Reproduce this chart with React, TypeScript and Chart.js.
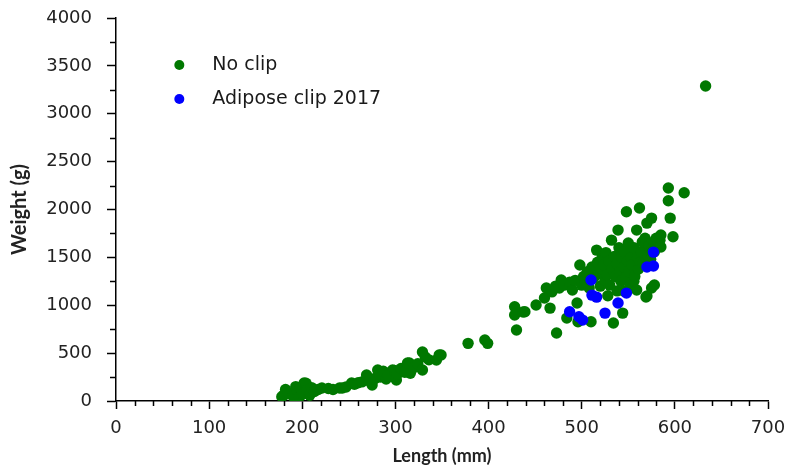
import React, { useEffect, useRef } from "react";
import { Chart, registerables } from "chart.js";
Chart.register(...registerables);

const seriesLabels = ["No clip", "Adipose clip 2017"];
const seriesColors = ["#007800", "#0000ff"];

const noClipLength = [
  178, 180, 182, 185, 190, 193, 195, 197, 198, 200, 202, 204, 205, 208, 210, 213, 217, 221, 228, 233,
  240, 243, 247, 253, 256, 260, 264, 269, 270, 272, 275, 277, 279, 281, 284, 287, 290, 292, 297, 299,
  301, 302, 306, 310, 313, 315, 316, 320, 324, 329, 329, 332, 336, 344, 347, 349,
  378, 396, 399, 428, 428, 430, 437, 439, 451, 460, 462,
  466, 468, 472, 473, 476, 478, 481, 484, 487, 490, 493, 495, 496, 498, 500, 502, 504, 506, 508, 510,
  511, 513, 516, 517, 519, 520, 521, 522, 524, 525, 526, 527, 528, 529, 530, 532, 533, 534, 535, 536,
  538, 538, 539, 540, 541, 542, 543, 544, 545, 545, 546, 548, 548, 549, 550, 551, 552, 553, 554, 556,
  556, 557, 559, 559, 560, 561, 562, 563, 564, 565, 566, 568, 569, 570, 570, 571, 572, 574, 575, 575,
  577, 578, 578, 580, 582, 584, 585, 585, 593, 593, 595, 598, 610, 633
];
const noClipWeight = [
  45, 60, 120, 80, 50, 150, 100, 45, 140, 70, 188, 185, 110, 60, 140, 100, 120, 136, 130, 120,
  136, 135, 146, 188, 175, 190, 200, 271, 240, 210, 167, 230, 240, 324, 250, 310, 230, 270, 324, 320,
  219, 280, 340, 300, 397, 397, 290, 350, 390, 512, 324, 460, 430, 428, 480, 480,
  602, 637, 602, 985, 898, 741, 930, 932, 1002, 1075, 1180,
  970, 1140, 1200, 710, 1180, 1263, 1210, 866, 1240, 1160, 1260, 1023, 828, 1420, 1210, 1300, 1250, 1350, 1180, 828,
  1400, 1290, 1576, 1450, 1330, 1200, 1380, 1500, 1420, 1260, 1550, 1320, 1100, 1460, 1210, 1680, 1380, 814, 1510, 1300,
  1430, 1150, 1785, 1600, 1350, 1250, 1500, 918, 1400, 1150, 1560, 1976, 1300, 1460, 1650, 1350, 1200, 1500, 1420, 1600,
  1250, 1300, 1785, 1160, 1500, 1380, 2015, 1450, 1560, 1660, 1440, 1700, 1086, 1858, 1096, 1520, 1620, 1480, 1910, 1180,
  1660, 1560, 1211, 1700, 1620, 1680, 1733, 1608, 2224, 2091, 1910, 1715, 2175, 3290
];

const adiposeLength = [487, 497, 501, 510, 511, 516, 525, 539, 548, 570, 577, 577];
const adiposeWeight = [932, 880, 845, 1263, 1106, 1085, 918, 1023, 1127, 1400, 1410, 1555];

const xMajorTicks = [0, 100, 200, 300, 400, 500, 600, 700];
const yMajorTicks = [0, 500, 1000, 1500, 2000, 2500, 3000, 3500, 4000];
const xMinorStep = 20;
const yMinorStep = 250;

const xTitle = "Length (mm)";
const yTitle = "Weight (g)";

const tickFont = { family: "'DejaVu Sans', Verdana, sans-serif", size: 18 };
const xTitleFont = { family: "Lato, 'DejaVu Sans', sans-serif", size: 18, weight: "bold" as const };
const yTitleFont = { family: "Lato, 'DejaVu Sans', sans-serif", size: 20, weight: "bold" as const };

const minorTicksPlugin = {
  id: "minorTicks",
  afterDraw(chart: any) {
    const ctx = chart.ctx;
    const xs = chart.scales.x;
    const ys = chart.scales.y;
    ctx.save();
    ctx.strokeStyle = "#000";
    ctx.lineWidth = 1.5;
    const yb = ys.getPixelForValue(0);
    for (let v = xs.min; v <= xs.max; v += xMinorStep) {
      if (xMajorTicks.includes(v)) continue;
      const px = Math.round(xs.getPixelForValue(v)) + 0.5;
      ctx.beginPath();
      ctx.moveTo(px, yb);
      ctx.lineTo(px, yb + 5);
      ctx.stroke();
    }
    const xl = xs.getPixelForValue(0);
    for (let v = ys.min; v <= ys.max; v += yMinorStep) {
      if (yMajorTicks.includes(v)) continue;
      const py = Math.round(ys.getPixelForValue(v)) + 0.5;
      ctx.beginPath();
      ctx.moveTo(xl, py);
      ctx.lineTo(xl - 6, py);
      ctx.stroke();
    }
    ctx.restore();
  },
};

const insideLegendPlugin = {
  id: "insideLegend",
  afterDraw(chart: any) {
    const ctx = chart.ctx;
    const xs = chart.scales.x;
    const ys = chart.scales.y;
    ctx.save();
    ctx.font = "19px 'DejaVu Sans', Verdana, sans-serif";
    ctx.textBaseline = "middle";
    chart.data.datasets.forEach((ds: any, i: number) => {
      const cx = xs.getPixelForValue(68);
      const cy = ys.getPixelForValue(3510) + i * 34;
      ctx.fillStyle = ds.backgroundColor;
      ctx.beginPath();
      ctx.arc(cx, cy, 5, 0, Math.PI * 2);
      ctx.fill();
      ctx.fillStyle = "#1a1a1a";
      ctx.fillText(ds.label, cx + 33, cy);
    });
    ctx.restore();
  },
};

export default function App() {
  const ref = useRef<HTMLCanvasElement | null>(null);
  useEffect(() => {
    if (!ref.current) return;
    const toPts = (xs: number[], ys: number[]) => xs.map((x, i) => ({ x, y: ys[i] }));
    const chart = new Chart(ref.current, {
      type: "scatter",
      data: {
        datasets: [
          {
            label: seriesLabels[0],
            data: toPts(noClipLength, noClipWeight),
            backgroundColor: seriesColors[0],
            borderColor: seriesColors[0],
            borderWidth: 0,
            pointRadius: 5.7,
            order: 1,
          },
          {
            label: seriesLabels[1],
            data: toPts(adiposeLength, adiposeWeight),
            backgroundColor: seriesColors[1],
            borderColor: seriesColors[1],
            borderWidth: 0,
            pointRadius: 5.7,
            order: 0,
          },
        ],
      },
      options: {
        responsive: false,
        animation: false,
        layout: { padding: { top: 18, right: 19, left: 0, bottom: 0 } },
        plugins: { legend: { display: false }, tooltip: { enabled: false } },
        scales: {
          x: {
            type: "linear",
            min: 0,
            max: 700,
            afterBuildTicks: (s: any) => { s.ticks = xMajorTicks.map((v) => ({ value: v })); },
            afterFit: (s: any) => { s.height = 70; s.paddingLeft = 0; s.paddingRight = 0; },
            border: { color: "#000", width: 1.5 },
            grid: { display: true, drawOnChartArea: false, drawTicks: true, tickLength: 8, color: "#000", tickWidth: 1.5 },
            ticks: { font: tickFont, color: "#222", padding: 9, maxRotation: 0, callback: (v: any) => String(v) },
            title: { display: true, text: xTitle, font: xTitleFont, color: "#222", padding: { top: 0, bottom: 4 } },
          },
          y: {
            type: "linear",
            min: 0,
            max: 4000,
            afterBuildTicks: (s: any) => { s.ticks = yMajorTicks.map((v) => ({ value: v })); },
            afterFit: (s: any) => { s.width = 116; s.paddingTop = 0; s.paddingBottom = 0; },
            border: { color: "#000", width: 1.5 },
            grid: { display: true, drawOnChartArea: false, drawTicks: true, tickLength: 9, color: "#000", tickWidth: 1.5 },
            ticks: { font: tickFont, color: "#222", padding: 15, callback: (v: any) => String(v) },
            title: { display: true, text: yTitle, font: yTitleFont, color: "#222", padding: { top: 8, bottom: 0 } },
          },
        },
      },
      plugins: [minorTicksPlugin, insideLegendPlugin],
    } as any);
    return () => chart.destroy();
  }, []);
  return (
    <div style={{ position: "fixed", left: 0, top: 0, width: 787, height: 471, background: "#fff" }}>
      <canvas ref={ref} width={787} height={471} style={{ display: "block" }} />
    </div>
  );
}
